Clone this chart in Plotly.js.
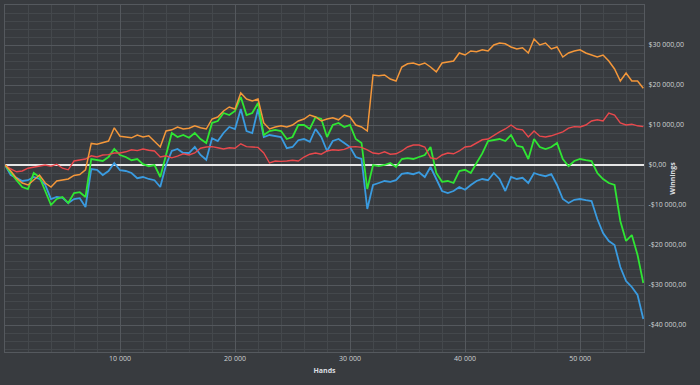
<!DOCTYPE html>
<html>
<head>
<meta charset="utf-8">
<script src="https://cdn.plot.ly/plotly-3.0.1.min.js"></script>
<style>
html,body{margin:0;padding:0;background:#383b3f;}
#chart{width:700px;height:385px;}
</style>
</head>
<body>
<div id="chart"></div>
<script>
const hands = [0,500,1000,1500,2000,2500,3000,3500,4000,4500,5000,5500,6000,6500,7000,7500,8000,8500,9000,9500,
10000,10500,11000,11500,12000,12500,13000,13500,14000,14500,15000,15500,16000,16500,17000,17500,18000,18500,19000,19500,
20000,20500,21000,21500,22000,22500,23000,23500,24000,24500,25000,25500,26000,26500,27000,27500,28000,28500,29000,29500,
30000,30500,31000,31500,32000,32500,33000,33500,34000,34500,35000,35500,36000,36500,37000,37500,38000,38500,39000,39500,
40000,40500,41000,41500,42000,42500,43000,43500,44000,44500,45000,45500,46000,46500,47000,47500,48000,48500,49000,49500,
50000,50500,51000,51500,52000,52500,53000,53500,54000,54500,55000,55500];

const orangeWin = [0,-1500,-3300,-4500,-5000,-3800,-2500,-4500,-5500,-4000,
-3800,-3500,-2600,-2400,-1200,5400,5200,5600,6000,9300,
7200,7000,6800,7500,7000,7300,6000,4500,8500,8800,
9500,9000,9200,9800,9300,9000,11500,12000,13500,14500,
14000,18000,16500,16000,16500,10500,9000,9500,9800,9500,
10000,11000,11500,12500,12000,11000,11500,11800,11300,12500,
12000,10000,9500,8500,22500,22300,22500,21500,21000,24500,
25300,25500,25000,25500,24500,23300,25500,25800,26000,28000,
27500,28500,28300,28800,28500,30000,30500,30300,29500,29000,
29300,28000,31500,30000,30500,29000,29500,27000,28000,28500,
28800,28000,27500,27000,27500,26000,24000,21000,23000,21000,
21000,19200];

const redWin = [0,-1000,-1700,-1500,-800,-500,-300,0,-300,200,
-800,-1200,1000,1200,1500,2300,2000,2500,2600,3000,
3000,3300,3800,3600,4000,3700,3500,2000,2300,1800,
2200,2800,2500,3000,4200,4500,4600,4300,4000,4300,
4200,5300,4600,4500,4400,3000,500,1000,900,1000,
1200,1000,2000,2700,3000,2700,3500,3800,3700,3900,
4500,4600,4400,3800,3000,2800,3300,2700,2800,3500,
4500,5000,5000,4500,1800,1500,2500,3000,2800,3500,
4500,4700,5500,6300,6500,7500,8300,9000,10000,9000,
8800,7000,8500,7200,7000,7300,7800,8300,9200,9600,
9500,10000,11000,11300,11000,13000,12500,10500,10000,10200,
9800,9600];

const greenWin = [0,-2000,-3800,-5500,-6000,-2000,-3000,-6500,-10000,-8500,
-8000,-9500,-7000,-6800,-8000,1500,1300,1000,2000,4000,
2500,2000,1200,1500,200,-300,0,-3000,2500,8000,
7000,7500,6800,8000,6500,5500,10500,11000,13000,12500,
13500,17000,12500,13000,15500,7500,8500,8800,8500,6500,
7000,10000,10000,9000,12000,11500,7000,10000,10500,9500,
10000,6500,5500,-6000,0,-300,0,500,-500,1500,
1700,1500,2000,2500,4500,-2000,-4200,-4000,-4500,-1500,
-1200,-2000,500,2900,6000,6200,6500,6000,7500,4800,
4500,1500,6500,4500,4000,4500,5500,1500,-300,1000,
1500,1200,1000,-2000,-3500,-4500,-5000,-14000,-19000,-17500,
-22500,-29500];

const blueWin = [0,-2500,-3200,-4000,-3800,-3000,-3500,-5000,-8500,-8000,
-8200,-9500,-8500,-8300,-10500,-1000,-1200,-2500,-1500,500,
-1300,-1500,-2000,-3300,-3000,-3500,-3800,-5500,0,3500,
4000,3000,3000,4500,2500,1300,6700,6000,8000,9500,
9000,14000,8500,8000,14000,7000,7500,7200,7000,4200,
4500,6200,6500,5800,9000,7000,3500,6000,6500,5500,
4500,2000,1500,-11000,-5000,-4500,-4000,-4200,-3800,-2200,
-2000,-2300,-1800,-3000,-500,-3500,-6500,-7000,-6500,-5500,
-6200,-5000,-4000,-3500,-3800,-2000,-3500,-6500,-3000,-3500,
-3200,-4500,-2000,-2500,-2800,-2300,-5000,-8500,-9500,-8700,
-8500,-8800,-9000,-13500,-17000,-19000,-20000,-25500,-29000,-30500,
-32500,-38500];

const yTickVals = [-40000,-30000,-20000,-10000,0,10000,20000,30000];
const yTickText = ['-$40 000,00','-$30 000,00','-$20 000,00','-$10 000,00','$0,00','$10 000,00','$20 000,00','$30 000,00'];
const xTickVals = [10000,20000,30000,40000,50000];
const xTickText = ['10 000','20 000','30 000','40 000','50 000'];

function line(y, color, width) {
  return {x: hands, y: y, type: 'scatter', mode: 'lines',
          line: {color: color, width: width}, hoverinfo: 'skip', showlegend: false};
}

const data = [
  line(blueWin, '#3a9be0', 1.8),
  line(greenWin, '#2fe633', 1.8),
  line(redWin, '#e8484c', 1.4),
  line(orangeWin, '#f4973a', 1.5)
];

const layout = {
  width: 700, height: 385,
  paper_bgcolor: '#383b3f', plot_bgcolor: '#383b3f',
  margin: {l: 5, r: 56, t: 5, b: 33},
  font: {family: 'Open Sans, sans-serif', size: 7, color: '#cfd2d4'},
  showlegend: false,
  xaxis: {
    range: [0, 55560], tickmode: 'array', tickvals: xTickVals, ticktext: xTickText,
    showgrid: true, gridcolor: '#54585d', gridwidth: 1,
    minor: {tickmode: 'linear', tick0: 0, dtick: 2000, showgrid: true, gridcolor: '#44484c', gridwidth: 1},
    zeroline: false, showline: true, linecolor: '#55595e', mirror: true,
    ticks: '', tickfont: {size: 7, color: '#cfd2d4'},
    title: {text: 'Hands', font: {size: 7, color: '#dcdfe1', family: 'Open Sans, sans-serif', weight: 'bold'}, standoff: 5},
    fixedrange: true
  },
  yaxis: {
    side: 'right',
    range: [-46750, 40000], tickmode: 'array', tickvals: yTickVals, ticktext: yTickText,
    showgrid: true, gridcolor: '#54585d', gridwidth: 1,
    minor: {tickmode: 'linear', tick0: 0, dtick: 2000, showgrid: true, gridcolor: '#44484c', gridwidth: 1},
    zeroline: true, zerolinecolor: '#e6e6e6', zerolinewidth: 2,
    showline: true, linecolor: '#55595e', mirror: true,
    ticks: '', tickfont: {size: 7, color: '#cfd2d4'}, ticklabelstandoff: 2,
    title: {text: 'Winnings', font: {size: 7, color: '#dcdfe1', family: 'Open Sans, sans-serif', weight: 'bold'}},
    fixedrange: true
  }
};

Plotly.newPlot('chart', data, layout, {displayModeBar: false, staticPlot: true});
</script>
</body>
</html>
